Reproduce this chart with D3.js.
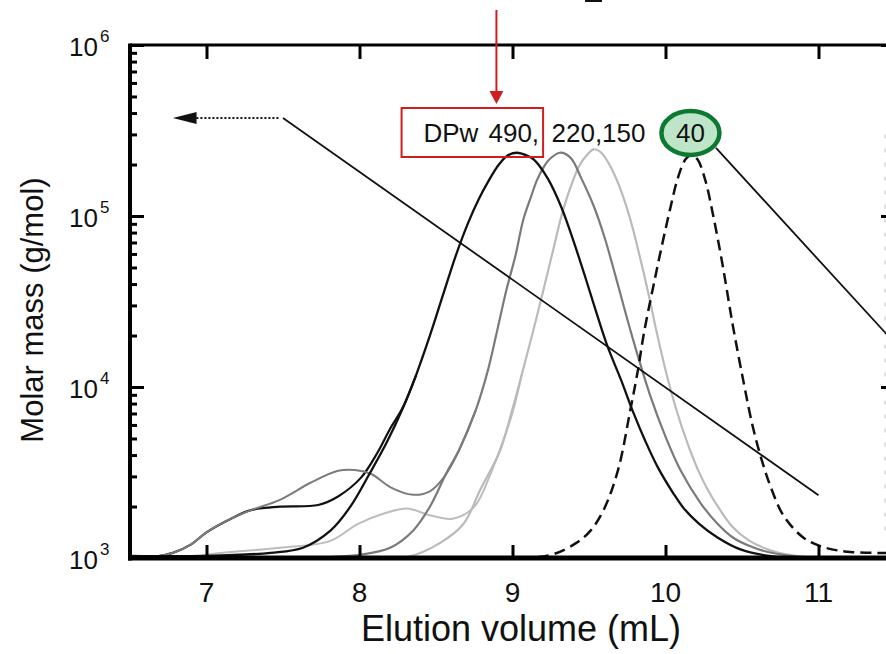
<!DOCTYPE html>
<html>
<head>
<meta charset="utf-8">
<script src="https://cdn.jsdelivr.net/npm/d3@7"></script>
<style>
    body { margin: 0; background: #fff; }
    svg { display: block; }
    text { font-family: "Liberation Sans", Arial, sans-serif; }
</style>
</head>
<body>
<svg id="chart"></svg>
<script>
// axis ticks
const xTicks = [7, 8, 9, 10, 11];
const yTicks = [1e3, 1e4, 1e5, 1e6];
const yTickExp = ["3", "4", "5", "6"];
const xTitle = "Elution volume (mL)";
const yTitle = "Molar mass (g/mol)";

// curves: [elution volume mL, molar mass g/mol]
const dp490 = [[6.5,1028],[7.0,1028],[7.42,1072],[7.63,1148],[7.81,1445],[7.94,1995],[8.07,3162],[8.18,4786],
    [8.28,7413],[8.37,11749],[8.46,19953],[8.55,35481],[8.63,58884],[8.71,91201],[8.78,125893],[8.84,158489],
    [8.91,199526],[8.97,226464],[9.03,234423],[9.09,226464],[9.14,213796],[9.23,165959],[9.32,112202],
    [9.40,70795],[9.48,42658],[9.55,26915],[9.62,17378],[9.71,10965],[9.79,7079],[9.87,4786],[9.95,3388],
    [10.05,2399],[10.12,1950],[10.22,1585],[10.34,1318],[10.49,1122],[10.7,1023],[11.0,1012],[11.5,1012]];
const dp490Shoulder = [[6.5,1000],[6.65,1012],[6.78,1072],[6.9,1202],[7.0,1413],[7.16,1698],[7.29,1905],
    [7.48,1995],[7.73,2042],[7.86,2291],[8.01,2951],[8.12,4169],[8.2,5700],[8.28,7500],[8.37,11749]];

const dp220 = [[6.5,1000],[7.5,1000],[7.8,1012],[8.01,1047],[8.20,1148],[8.35,1445],[8.46,1995],[8.57,3162],
    [8.65,4266],[8.76,7328],[8.84,12589],[8.90,21380],[8.96,36898],[9.02,58884],[9.07,94842],[9.12,128825],
    [9.16,162181],[9.20,190546],[9.24,213796],[9.31,234423],[9.38,218776],[9.45,165959],[9.53,114815],
    [9.60,75858],[9.67,45709],[9.74,26915],[9.81,16218],[9.90,8913],[10.0,5129],[10.1,3236],[10.23,2089],
    [10.34,1585],[10.44,1318],[10.55,1175],[10.67,1084],[10.9,1012],[11.5,1012]];
const dp220Shoulder = [[6.5,1000],[6.65,1012],[6.78,1072],[6.9,1202],[7.0,1413],[7.16,1698],[7.29,1905],
    [7.48,2188],[7.68,2754],[7.86,3236],[7.97,3273],[8.08,3090],[8.20,2600],[8.35,2344],[8.46,2455],
    [8.55,2951],[8.64,4074],[8.68,4898],[8.76,7328]];

const dp150 = [[6.5,1000],[8.0,1000],[8.31,1012],[8.53,1230],[8.68,1585],[8.79,2512],[8.92,4266],[8.99,6918],
    [9.06,11749],[9.13,20417],[9.20,36308],[9.26,60256],[9.32,100000],[9.38,147911],[9.44,199526],[9.49,229087],
    [9.53,245471],[9.58,234423],[9.64,194984],[9.70,147911],[9.77,95499],[9.83,58884],[9.89,34674],[9.94,21380],
    [10.0,12589],[10.07,7413],[10.14,4786],[10.21,3311],[10.27,2570],[10.35,1950],[10.44,1514],[10.55,1259],
    [10.67,1122],[10.8,1047],[10.93,1012],[11.5,1000]];
const dp150Shoulder = [[6.5,1000],[6.8,1012],[7.16,1084],[7.48,1148],[7.81,1259],[7.99,1585],[8.16,1820],
    [8.31,1950],[8.46,1778],[8.61,1698],[8.75,1995],[8.86,3162],[8.94,4898],[9.0,7079],[9.06,11749]];

const dp40 = [[6.5,1000],[9.0,1000],[9.25,1042],[9.42,1230],[9.51,1445],[9.595,1905],[9.69,3273],[9.77,7328],
    [9.82,12589],[9.86,20893],[9.93,42658],[9.97,63096],[10.03,109648],[10.08,165959],[10.13,213796],
    [10.17,227510],[10.21,213796],[10.26,162181],[10.31,102329],[10.37,53703],[10.44,22909],[10.51,10715],
    [10.57,5888],[10.63,3715],[10.69,2570],[10.77,1778],[10.90,1318],[11.03,1159],[11.21,1084],[11.5,1072]];

const width = 886, height = 654;
const margin = { top: 45, left: 130, bottom: 96 };
const plotRight = 895;

const svg = d3.select("#chart").attr("width", width).attr("height", height);

const x = d3.scaleLinear().domain([6.5, 11.5]).range([margin.left, plotRight]);
const y = d3.scaleLog().domain([1e3, 1e6]).range([height - margin.bottom, margin.top]);

const minorTicks = y.ticks().filter(v => !yTicks.includes(v));

svg.append("defs").append("clipPath").attr("id", "plot-clip")
    .append("rect")
    .attr("x", margin.left).attr("y", margin.top)
    .attr("width", plotRight - margin.left).attr("height", y(1e3) - margin.top);

// faint right edge
svg.append("line")
    .attr("x1", 885).attr("x2", 885)
    .attr("y1", y(3e5)).attr("y2", y(1.3e3))
    .attr("stroke", "#d8d8d8").attr("stroke-width", 1.5)
    .attr("stroke-dasharray", "4,10");

//curves
const line = d3.line()
    .x(d => x(d[0]))
    .y(d => y(d[1]))
    .curve(d3.curveCatmullRom.alpha(0.5));

const series = [
    { data: dp490Shoulder, color: "#111", w: 2.2 },
    { data: dp150Shoulder, color: "#bdbdbd", w: 2 },
    { data: dp220Shoulder, color: "#7c7c7c", w: 2 },
    { data: dp150, color: "#bababa", w: 2.2 },
    { data: dp220, color: "#7a7a7a", w: 2.2 },
    { data: dp490, color: "#111", w: 2.3 },
    { data: dp40, color: "#111", w: 2.5, dash: "11,6" }
];

const curves = svg.append("g").attr("clip-path", "url(#plot-clip)");
series.forEach(s => {
    curves.append("path")
        .datum(s.data)
        .attr("d", line)
        .attr("fill", "none")
        .attr("stroke", s.color)
        .attr("stroke-width", s.w)
        .attr("stroke-linejoin", "round")
        .attr("stroke-dasharray", s.dash || null);
});

// axes
function styleTicks(g, w) {
    g.select(".domain").remove();
    g.selectAll(".tick line").attr("stroke", "#000").attr("stroke-width", w);
}

const axisLeftMajor = d3.axisLeft(y).tickValues(yTicks).tickSize(-14).tickFormat("");
svg.append("g").attr("transform", `translate(${margin.left},0)`).call(axisLeftMajor).call(g => styleTicks(g, 3));
const axisLeftMinor = d3.axisLeft(y).tickValues(minorTicks).tickSize(-7).tickFormat("");
svg.append("g").attr("transform", `translate(${margin.left},0)`).call(axisLeftMinor).call(g => styleTicks(g, 3));

const axisRightMajor = d3.axisRight(y).tickValues(yTicks).tickSize(-14).tickFormat("");
svg.append("g").attr("transform", `translate(${plotRight},0)`).call(axisRightMajor).call(g => styleTicks(g, 3));

const axisTop = d3.axisTop(x).tickValues(xTicks).tickSize(-14).tickFormat("");
svg.append("g").attr("transform", `translate(0,${margin.top})`).call(axisTop).call(g => styleTicks(g, 3));

const axisBottom = d3.axisBottom(x).tickValues(xTicks).tickSize(-13).tickFormat("");
svg.append("g").attr("transform", `translate(0,${y(1e3)})`).call(axisBottom).call(g => styleTicks(g, 3));

// frame
svg.append("line").attr("x1", margin.left).attr("x2", width).attr("y1", margin.top).attr("y2", margin.top)
    .attr("stroke", "#000").attr("stroke-width", 3);
svg.append("line").attr("x1", margin.left).attr("x2", margin.left).attr("y1", margin.top - 1.5).attr("y2", y(1e3) + 2.5)
    .attr("stroke", "#000").attr("stroke-width", 4);
svg.append("line").attr("x1", margin.left - 2).attr("x2", width).attr("y1", y(1e3)).attr("y2", y(1e3))
    .attr("stroke", "#000").attr("stroke-width", 5);

// tick labels: "10" plus a raised exponent
const yLab = svg.append("g");
yLab.selectAll("text.base")
    .data(yTicks)
    .enter()
    .append("text")
    .attr("class", "base")
    .attr("x", 98)
    .attr("y", d => y(d) + 11)
    .attr("text-anchor", "end")
    .style("font-size", "26px")
    .style("fill", "#111")
    .text("10");
yLab.selectAll("text.exp")
    .data(yTicks)
    .enter()
    .append("text")
    .attr("class", "exp")
    .attr("x", 100)
    .attr("y", d => y(d) - 3)
    .style("font-size", "17px")
    .style("fill", "#111")
    .text((d, i) => yTickExp[i]);

svg.append("g").selectAll("text")
    .data(xTicks)
    .enter()
    .append("text")
    .attr("x", d => x(d))
    .attr("y", 602)
    .attr("text-anchor", "middle")
    .style("font-size", "28px")
    .style("fill", "#111")
    .text(d => d);

// axis titles
svg.append("text")
    .attr("x", 521).attr("y", 641)
    .attr("text-anchor", "middle")
    .style("font-size", "36px")
    .style("fill", "#111")
    .text(xTitle);

svg.append("text")
    .attr("transform", "translate(43,310) rotate(-90)")
    .attr("text-anchor", "middle")
    .style("font-size", "31px")
    .style("fill", "#111")
    .text(yTitle);

// annotations
const ann = svg.append("g");

// dotted arrow + long diagonal
ann.append("line")
    .attr("x1", x(7.47)).attr("x2", x(6.93))
    .attr("y1", y(374000)).attr("y2", y(374000))
    .attr("stroke", "#111").attr("stroke-width", 2).attr("stroke-dasharray", "2,2");
ann.append("path")
    .attr("d", `M${x(6.78)},${y(374000)}L${x(6.935)},${y(374000) - 6}L${x(6.935)},${y(374000) + 6}Z`)
    .attr("fill", "#111");
ann.append("line")
    .attr("x1", x(7.5)).attr("y1", y(374000))
    .attr("x2", x(11.0)).attr("y2", y(2330))
    .attr("stroke", "#111").attr("stroke-width", 1.8);

// line from the 40 label
ann.append("line")
    .attr("x1", x(10.33)).attr("y1", y(250000))
    .attr("x2", x(11.5)).attr("y2", y(18000))
    .attr("stroke", "#111").attr("stroke-width", 1.8);

// red arrow and box
const redX = x(8.895);
ann.append("line")
    .attr("x1", redX).attr("x2", redX)
    .attr("y1", 10).attr("y2", 93)
    .attr("stroke", "#d01c1c").attr("stroke-width", 2);
ann.append("path")
    .attr("d", `M${redX - 7},${91}L${redX + 7},${91}L${redX},${104}Z`)
    .attr("fill", "#d01c1c");
ann.append("rect")
    .attr("x", x(8.275)).attr("y", 108)
    .attr("width", x(9.2) - x(8.275)).attr("height", 49)
    .attr("fill", "none")
    .attr("stroke", "#d01c1c").attr("stroke-width", 2);

// green ellipse
ann.append("ellipse")
    .attr("cx", x(10.163)).attr("cy", 133)
    .attr("rx", 29).attr("ry", 22)
    .attr("fill", "#bfe5c9")
    .attr("stroke", "#0b7a30").attr("stroke-width", 4.5);

// labels
const labelPos = [8.418, 8.843, 9.255, 10.163];
const labelText = ["DPw", "490,", "220,150", "40"];
ann.selectAll("text.dp")
    .data(labelText)
    .enter()
    .append("text")
    .attr("class", "dp")
    .attr("x", (d, i) => x(labelPos[i]))
    .attr("y", 142)
    .attr("text-anchor", (d, i) => i === 3 ? "middle" : "start")
    .style("font-size", "26px")
    .style("fill", "#111")
    .text(d => d);

// cropped fragment at the very top
ann.append("rect").attr("x", 585).attr("y", 0).attr("width", 17).attr("height", 2).attr("fill", "#111");
</script>
</body>
</html>
